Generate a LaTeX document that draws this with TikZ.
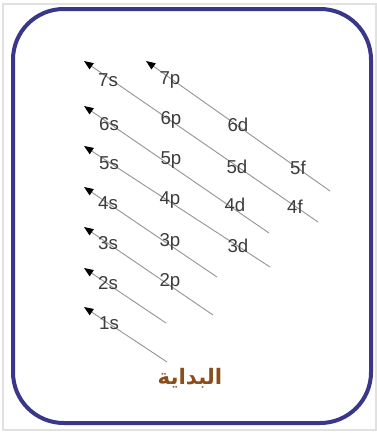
\documentclass[tikz,border=0pt]{standalone}
\usepackage{fontspec}
\usepackage{xcolor}
\usepackage{tikz}
\usetikzlibrary{arrows.meta,positioning}
\setmainfont{Liberation Sans}
\newfontfamily\arabicfont[Script=Arabic]{DejaVu Sans}
\TeXXeTstate=1
\definecolor{framenavy}{RGB}{58, 54, 138}
\definecolor{labelgray}{RGB}{60, 60, 60}
\definecolor{linegray}{RGB}{150, 150, 150}
\definecolor{startbrown}{RGB}{140, 78, 25}
\definecolor{edgegray}{RGB}{225, 225, 225}

\tikzset{
  orb/.style={text=labelgray, font=\fontsize{14}{14}\selectfont, inner sep=1pt},
  diag/.style={linegray, line width=0.7pt, -{Triangle[length=7pt, width=5.5pt, black]}}
}

\begin{document}
\begin{tikzpicture}[x=0.75pt, y=-0.75pt]
    \useasboundingbox (0,0) rectangle (377,433);
    \draw[edgegray, line width=0.8pt] (3,4) rectangle (376,430);
    \draw[framenavy, line width=3pt, rounded corners=38pt] (13,9) rectangle (371,423);

    % end points of the diagonals
    \coordinate (e1s) at (167,362);  \coordinate (t1s) at (84,307);
    \coordinate (e2s) at (166,323);  \coordinate (t2s) at (84,268);
    \coordinate (e3s) at (213,315);  \coordinate (t3s) at (84,227);
    \coordinate (e4s) at (217,277);  \coordinate (t4s) at (84,187);
    \coordinate (e5s) at (270,267);  \coordinate (t5s) at (84,146);
    \coordinate (e6s) at (269,233);  \coordinate (t6s) at (84,106);
    \coordinate (e7s) at (318,222);  \coordinate (t7s) at (84,61);
    \coordinate (e7p) at (330,191);  \coordinate (t7p) at (146,61);

    \draw[diag] (e1s) -- (t1s);
    \draw[diag] (e2s) -- (t2s);
    \draw[diag] (e3s) -- (t3s);
    \draw[diag] (e4s) -- (t4s);
    \draw[diag] (e5s) -- (t5s);
    \draw[diag] (e6s) -- (t6s);
    \draw[diag] (e7s) -- (t7s);
    \draw[diag] (e7p) -- (t7p);

    % s
    \node[orb] (s7) at (108,80) {7s};
    \node[orb] (s6) at (109,124) {6s};
    \node[orb] (s5) at (109,163) {5s};
    \node[orb] (s4) at (108,203) {4s};
    \node[orb] (s3) at (108,243) {3s};
    \node[orb] (s2) at (108,283) {2s};
    \node[orb] (s1) at (109,323) {1s};
    % p
    \node[orb] (p7) at (170,80) {7p};
    \node[orb] (p6) at (171,120) {6p};
    \node[orb] (p5) at (171,160) {5p};
    \node[orb] (p4) at (170,200) {4p};
    \node[orb] (p3) at (170,242) {3p};
    \node[orb] (p2) at (170,282) {2p};
    % d
    \node[orb] (d6) at (238,125) {6d};
    \node[orb] (d5) at (237,167) {5d};
    \node[orb] (d4) at (235,205) {4d};
    \node[orb] (d3) at (238,246) {3d};
    % f
    \node[orb] (f5) at (298,168) {5f};
    \node[orb] (f4) at (295,207) {4f};

    \node[text=startbrown, font=\arabicfont\bfseries\fontsize{16}{16}\selectfont] (start) at (190,378) {\beginR البداية\endR};
\end{tikzpicture}
\end{document}
